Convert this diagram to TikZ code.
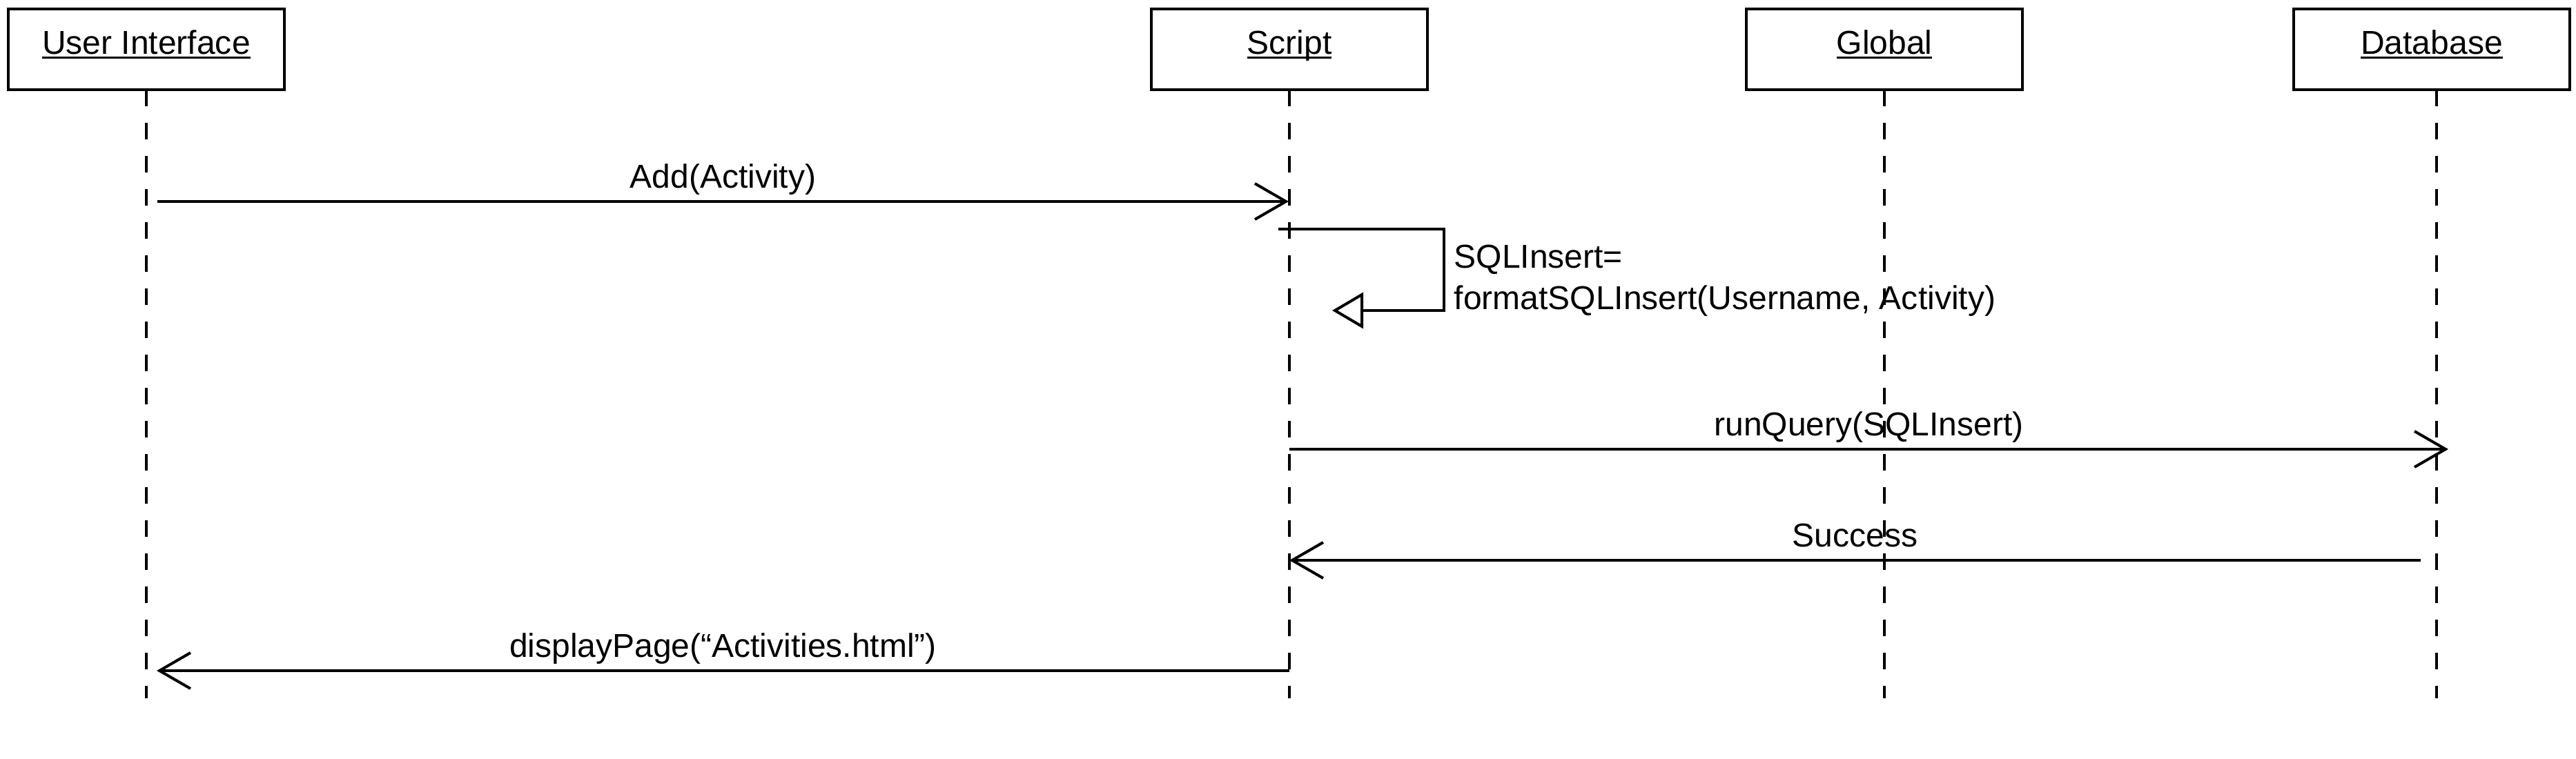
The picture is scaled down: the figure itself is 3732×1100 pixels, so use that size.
\documentclass[tikz,border=0pt]{standalone}
\usepackage{fontspec}
\setmainfont{Liberation Sans}
\usetikzlibrary{arrows.meta}
\newcommand{\objname}[1]{\setbox0\hbox{#1}\rlap{\rule[-0.6mm]{\wd0}{0.3mm}}\box0}
\tikzset{
    diafont/.style = {
        font=\fontsize{13.66pt}{17.07pt}\selectfont
    },
    headnode/.style = {
        diafont,
        rectangle,
        draw=black,
        line width=0.4mm,
        minimum width=40mm,
        minimum height=11.7mm,
        text height=3.5mm,
        text depth=2mm,
        inner sep=0mm,
        outer sep=0mm
    },
    lifeline/.style = {
        line width=0.4mm,
        dash pattern=on 2.4mm off 2.4mm
    },
    msg/.style = {
        line width=0.4mm,
        -{Straight Barb[length=4.5mm,width=5.2mm]}
    },
    selfmsg/.style = {
        line width=0.4mm,
        -{Triangle[open,length=4.5mm,width=5.2mm]}
    },
    msgtext/.style = {
        diafont,
        anchor=base,
        yshift=1.9mm,
        inner sep=0mm
    }
}
\begin{document}
\begin{tikzpicture}[x=0.1mm,y=-0.1mm]
    \useasboundingbox (0,0) rectangle (3732,1100);
    % lifeline heads
    \node [headnode] (ui) at (212,71.5) {\objname{User Interface}};
    \node [headnode] (script) at (1868,71.5) {\objname{Script}};
    \node [headnode] (global) at (2730,71.5) {\objname{Global}};
    \node [headnode] (db) at (3523,71.5) {\objname{Database}};
    % lifelines
    \coordinate (ui-top) at (ui.south);
    \coordinate (script-top) at (script.south);
    \coordinate (global-top) at (global.south);
    \coordinate (db-top) at ([xshift=0.7mm]db.south);
    \foreach \obj in {ui,script,global,db}{
        \coordinate (\obj-end) at (\obj-top |- 0,1012);
        \draw [lifeline] (\obj-top) -- (\obj-end);
    }
    % message end points
    \coordinate (add-s) at (228,292);
    \coordinate (add-e) at (1867,292);
    \coordinate (self-s) at (1852,332);
    \coordinate (self-e) at (1930,450);
    \coordinate (query-s) at (1868,651);
    \coordinate (query-e) at (3547,651);
    \coordinate (ok-s) at (3507,812);
    \coordinate (ok-e) at (1868,812);
    \coordinate (page-s) at (1868,972);
    \coordinate (page-e) at (227,972);
    % messages
    \draw [msg] (add-s) -- node [msgtext] {Add(Activity)} (add-e);
    \draw [selfmsg] (self-s) -- ++(240,0) coordinate (self-c) |- (self-e);
    \node [diafont, anchor=west, align=left, inner sep=0mm] (self-txt) at (2106,407)
        {SQLInsert=\\formatSQLInsert(Username, Activity)};
    \draw [msg] (query-s) -- node [msgtext] {runQuery(SQLInsert)} (query-e);
    \draw [msg] (ok-s) -- node [msgtext] {Success} (ok-e);
    \draw [msg] (page-s) -- node [msgtext] {displayPage(“Activities.html”)} (page-e);
\end{tikzpicture}
\end{document}
